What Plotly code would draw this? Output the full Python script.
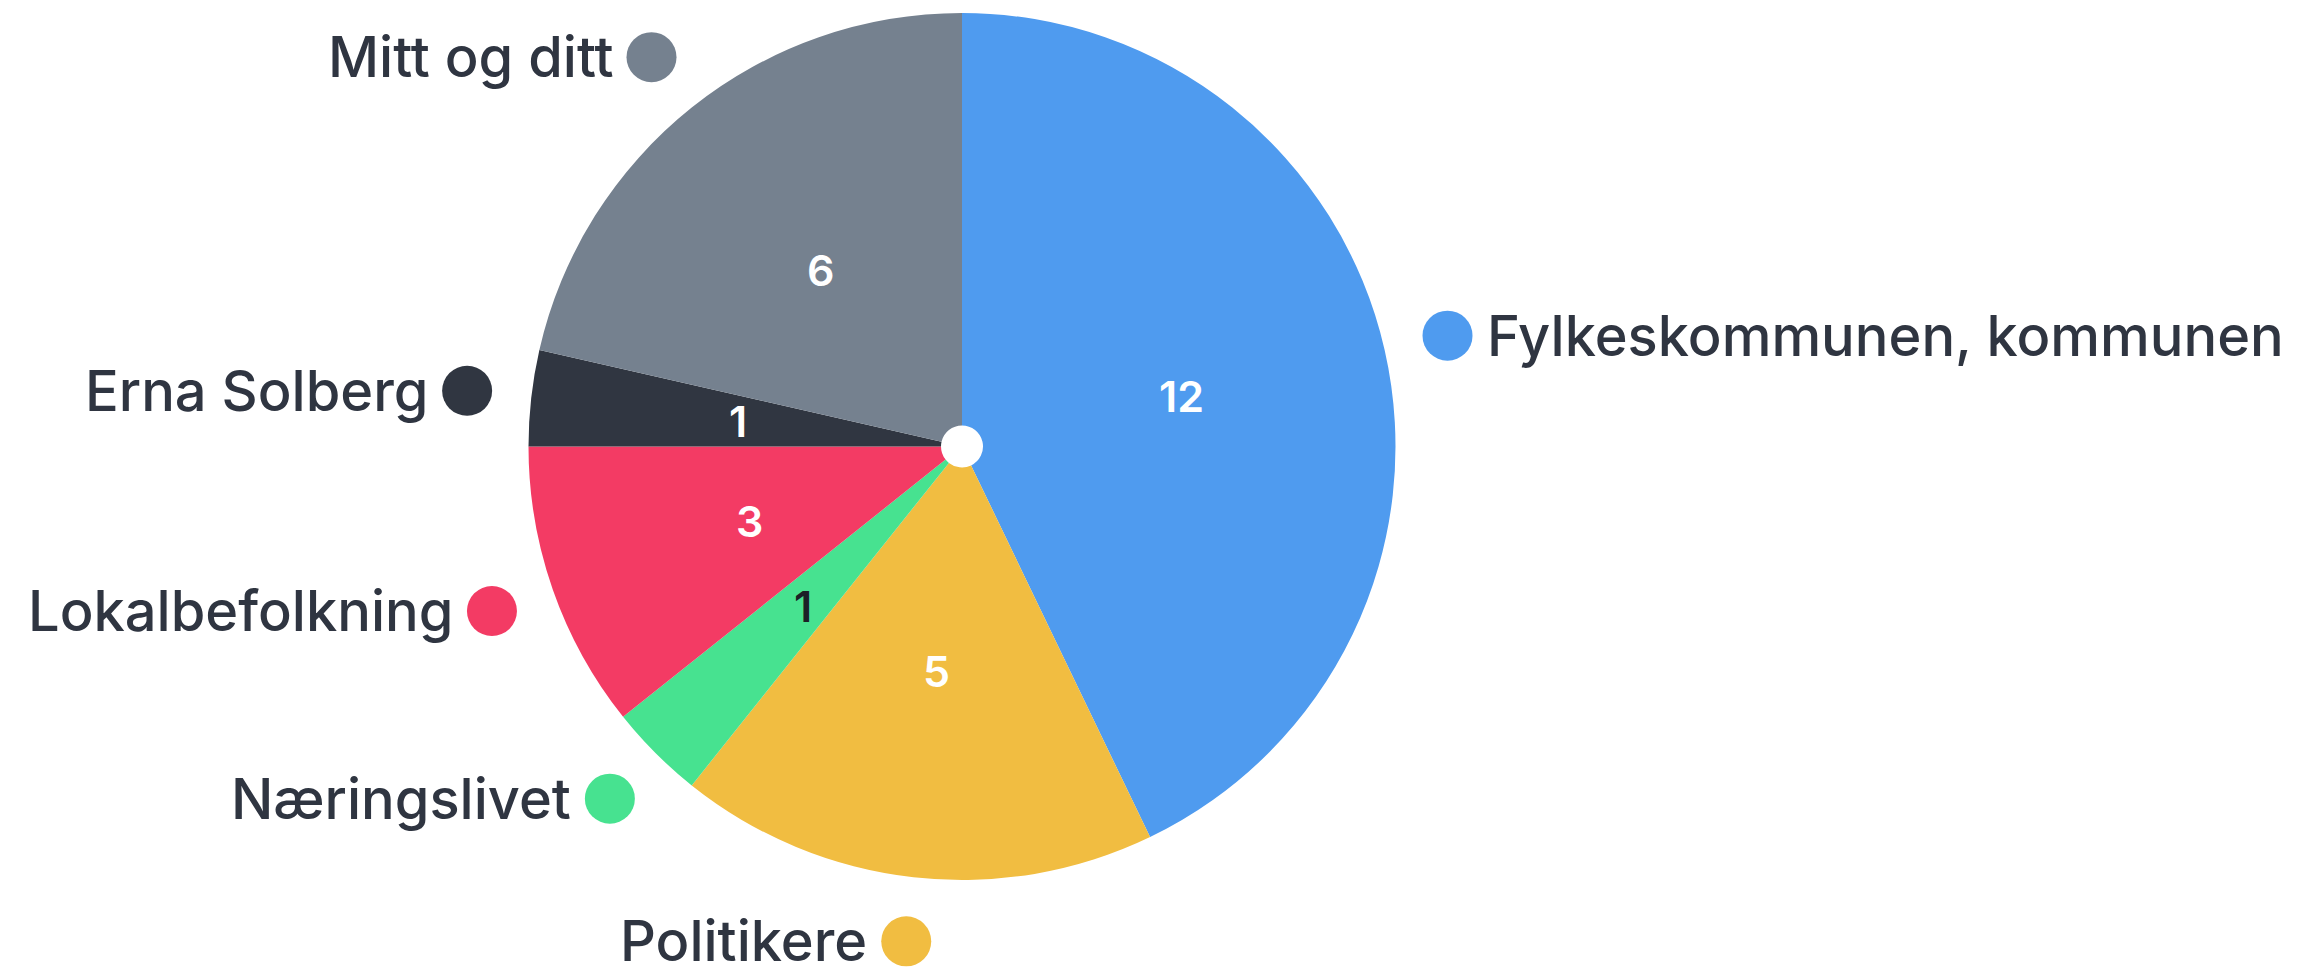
import math
import plotly.graph_objects as go

categories = ["Fylkeskommunen, kommunen", "Politikere", "Næringslivet",
              "Lokalbefolkning", "Erna Solberg", "Mitt og ditt"]
values = [12, 5, 1, 3, 1, 6]
colors = ["#4f9bef", "#f1bd41", "#47e290", "#f33b64", "#303641", "#75818f"]
value_text_colors = ["#ffffff", "#ffffff", "#1c2026", "#ffffff", "#ffffff", "#ffffff"]

W, H = 2299, 971
CX, CY, R = 962, 446.5, 433.5
LABEL_R = 498
VALUE_R = 0.52 * R
DOT = 50
GAP = 12
FONT = "Inter"
TEXT_COLOR = "#2f3541"

fig = go.Figure()
fig.add_trace(go.Pie(
    labels=categories, values=values, sort=False, direction="clockwise",
    rotation=0, hole=21 / R,
    marker=dict(colors=colors, line=dict(width=0)),
    textinfo="none", hoverinfo="skip", showlegend=False,
    domain=dict(x=[(CX - R) / W, (CX + R) / W],
                y=[1 - (CY + R) / H, 1 - (CY - R) / H]),
))

total = sum(values)
cum = 0
dot_x, dot_y = [], []
annotations = []
for cat, v, col, tcol in zip(categories, values, colors, value_text_colors):
    mid = (cum + v / 2) / total * 2 * math.pi
    cum += v
    sx, sy = math.sin(mid), -math.cos(mid)
    dx, dy = CX + LABEL_R * sx, CY + LABEL_R * sy
    dot_x.append(dx)
    dot_y.append(dy)
    vx, vy = CX + VALUE_R * sx, CY + VALUE_R * sy
    annotations.append(dict(x=vx, y=vy, xref="x", yref="y", text=str(v),
                            showarrow=False, xanchor="center", yanchor="middle",
                            font=dict(family=FONT, size=43, color=tcol, weight=600)))
    left = sx < 0
    annotations.append(dict(
        x=dx - (DOT / 2 + GAP) if left else dx + (DOT / 2 + GAP), y=dy,
        xref="x", yref="y", text=cat, showarrow=False,
        xanchor="right" if left else "left", yanchor="middle",
        font=dict(family=FONT, size=56, color=TEXT_COLOR, weight=500)))

fig.add_trace(go.Scatter(
    x=dot_x, y=dot_y, mode="markers",
    marker=dict(size=DOT, color=colors, line=dict(width=0)),
    hoverinfo="skip", showlegend=False, cliponaxis=False,
))

fig.update_layout(
    width=W, height=H, margin=dict(l=0, r=0, t=0, b=0),
    paper_bgcolor="white", plot_bgcolor="rgba(0,0,0,0)",
    xaxis=dict(range=[0, W], visible=False, fixedrange=True),
    yaxis=dict(range=[H, 0], visible=False, fixedrange=True),
    annotations=annotations,
)

fig.write_html("out.html", config={"displayModeBar": False},
               post_script="document.body.style.margin='0';")
